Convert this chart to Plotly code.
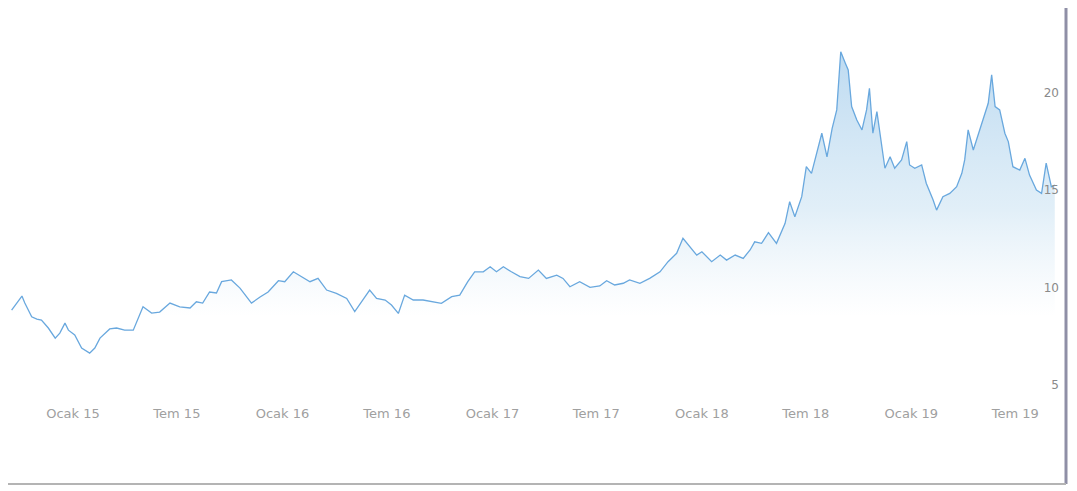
import plotly.graph_objects as go

# ---- data ----
dates = [
    "2014-09-16", "2014-10-04", "2014-10-09", "2014-10-21", "2014-10-30", "2014-11-07", "2014-11-19",
    "2014-12-01", "2014-12-09", "2014-12-18", "2014-12-24", "2015-01-04", "2015-01-16", "2015-01-30",
    "2015-02-08", "2015-02-17", "2015-03-06", "2015-03-18", "2015-04-01", "2015-04-16", "2015-05-03",
    "2015-05-18", "2015-06-01", "2015-06-19", "2015-07-06", "2015-07-24", "2015-08-04", "2015-08-15",
    "2015-08-27", "2015-09-08", "2015-09-17", "2015-10-04", "2015-10-19", "2015-11-08", "2015-11-23",
    "2015-12-07", "2015-12-25", "2016-01-05", "2016-01-20", "2016-02-03", "2016-02-18", "2016-03-03",
    "2016-03-18", "2016-04-04", "2016-04-22", "2016-05-06", "2016-05-18", "2016-06-01", "2016-06-13",
    "2016-06-28", "2016-07-09", "2016-07-21", "2016-08-01", "2016-08-16", "2016-09-02", "2016-09-19",
    "2016-10-04", "2016-10-22", "2016-11-05", "2016-11-19", "2016-12-01", "2016-12-16", "2016-12-28",
    "2017-01-08", "2017-01-20", "2017-02-03", "2017-02-18", "2017-03-05", "2017-03-22", "2017-04-05",
    "2017-04-23", "2017-05-04", "2017-05-16", "2017-06-02", "2017-06-20", "2017-07-07", "2017-07-19",
    "2017-08-02", "2017-08-17", "2017-08-28", "2017-09-15", "2017-10-02", "2017-10-20", "2017-11-03",
    "2017-11-18", "2017-11-29", "2017-12-11", "2017-12-23", "2018-01-01", "2018-01-18", "2018-02-02",
    "2018-02-13", "2018-02-28", "2018-03-14", "2018-03-26", "2018-04-03", "2018-04-15", "2018-04-27",
    "2018-05-11", "2018-05-26", "2018-06-03", "2018-06-12", "2018-06-24", "2018-07-02", "2018-07-11",
    "2018-07-20", "2018-07-29", "2018-08-07", "2018-08-16", "2018-08-24", "2018-08-31", "2018-09-08",
    "2018-09-13", "2018-09-19", "2018-09-28", "2018-10-07", "2018-10-15", "2018-10-20", "2018-10-26",
    "2018-11-02", "2018-11-09", "2018-11-16", "2018-11-25", "2018-12-03", "2018-12-15", "2018-12-24",
    "2018-12-29", "2019-01-07", "2019-01-19", "2019-01-27", "2019-02-08", "2019-02-14", "2019-02-25",
    "2019-03-09", "2019-03-21", "2019-03-30", "2019-04-04", "2019-04-10", "2019-04-19", "2019-04-27",
    "2019-05-06", "2019-05-15", "2019-05-21", "2019-05-27", "2019-06-04", "2019-06-13", "2019-06-19",
    "2019-06-27", "2019-07-09", "2019-07-18", "2019-07-26", "2019-08-07", "2019-08-16", "2019-08-24",
    "2019-09-02", "2019-09-08",
]
values = [
    8.84, 9.56, 9.20, 8.50, 8.38, 8.33, 7.92,
    7.40, 7.66, 8.17, 7.81, 7.56, 6.89, 6.63,
    6.89, 7.40, 7.87, 7.92, 7.81, 7.81, 9.01,
    8.69, 8.74, 9.20, 9.01, 8.95, 9.27, 9.20,
    9.77, 9.72, 10.30, 10.39, 9.97, 9.20, 9.51,
    9.77, 10.35, 10.30, 10.81, 10.56, 10.30, 10.47,
    9.87, 9.70, 9.44, 8.76, 9.27, 9.87, 9.44,
    9.36, 9.10, 8.67, 9.61, 9.36, 9.36, 9.27,
    9.19, 9.53, 9.61, 10.30, 10.81, 10.81, 11.07,
    10.81, 11.07, 10.81, 10.56, 10.47, 10.90, 10.47,
    10.64, 10.47, 10.04, 10.30, 10.01, 10.08, 10.35,
    10.13, 10.22, 10.39, 10.22, 10.47, 10.81, 11.33,
    11.76, 12.53, 12.10, 11.67, 11.84, 11.33, 11.67,
    11.41, 11.67, 11.50, 11.93, 12.35, 12.27, 12.82,
    12.27, 13.30, 14.41, 13.64, 14.67, 16.21, 15.87,
    16.90, 17.93, 16.72, 18.18, 19.13, 22.12, 21.53,
    21.18, 19.30, 18.61, 18.10, 19.13, 20.24, 17.93,
    19.04, 17.67, 16.13, 16.72, 16.13, 16.56, 17.50,
    16.30, 16.13, 16.30, 15.36, 14.50, 13.98, 14.67,
    14.84, 15.18, 15.87, 16.56, 18.10, 17.07, 17.84,
    18.70, 19.47, 20.93, 19.30, 19.13, 17.93, 17.50,
    16.21, 16.04, 16.64, 15.78, 15.01, 14.84, 16.39,
    15.18, 15.27,
]
tick_dates = ["2015-01-01", "2015-07-01", "2016-01-01", "2016-07-01", "2017-01-01",
              "2017-07-01", "2018-01-01", "2018-07-01", "2019-01-01", "2019-07-01"]
tick_labels = ["Ocak 15", "Tem 15", "Ocak 16", "Tem 16", "Ocak 17",
               "Tem 17", "Ocak 18", "Tem 18", "Ocak 19", "Tem 19"]
y_ticks = [5, 10, 15, 20]

fig = go.Figure()
fig.add_trace(go.Scatter(
    x=dates, y=values, mode="lines",
    line=dict(color="rgb(105,168,222)", width=1.3),
    fill="tozeroy",
    fillgradient=dict(
        type="vertical",
        colorscale=[[0, "rgba(215,232,244,0)"], [0.4, "rgba(200,225,242,0.55)"],
                    [1, "rgba(165,205,236,0.75)"]],
        start=8.5, stop=22.5,
    ),
    hoverinfo="x+y", showlegend=False,
))

fig.update_layout(
    width=1077, height=491,
    margin=dict(l=0, r=23, t=12, b=99),
    paper_bgcolor="white", plot_bgcolor="white",
    font=dict(family="DejaVu Sans", size=12, color="#9a9a9a"),
    xaxis=dict(
        range=["2014-09-09 17:00", "2019-09-20 14:00"],
        tickmode="array", tickvals=tick_dates, ticktext=tick_labels,
        showgrid=False, zeroline=False, showline=False, ticks="",
        tickfont=dict(size=13, color="#a0a0a0"), ticklabelstandoff=4,
    ),
    yaxis=dict(
        range=[4.22, 23.75], side="right", ticklabelposition="inside",
        tickmode="array", tickvals=y_ticks,
        showgrid=False, zeroline=False, showline=False, ticks="",
        tickfont=dict(size=12, color="#8a8a8a"),
    ),
    shapes=[
        dict(type="line", xref="paper", yref="paper", x0=1.0038, x1=1.0038, y0=-0.221, y1=1.05,
             line=dict(color="#8f8fa6", width=3)),
        dict(type="line", xref="paper", yref="paper", x0=0, x1=1.0038, y0=-0.221, y1=-0.221,
             line=dict(color="#b4b4b4", width=2)),
    ],
)

fig.write_html("out.html")
